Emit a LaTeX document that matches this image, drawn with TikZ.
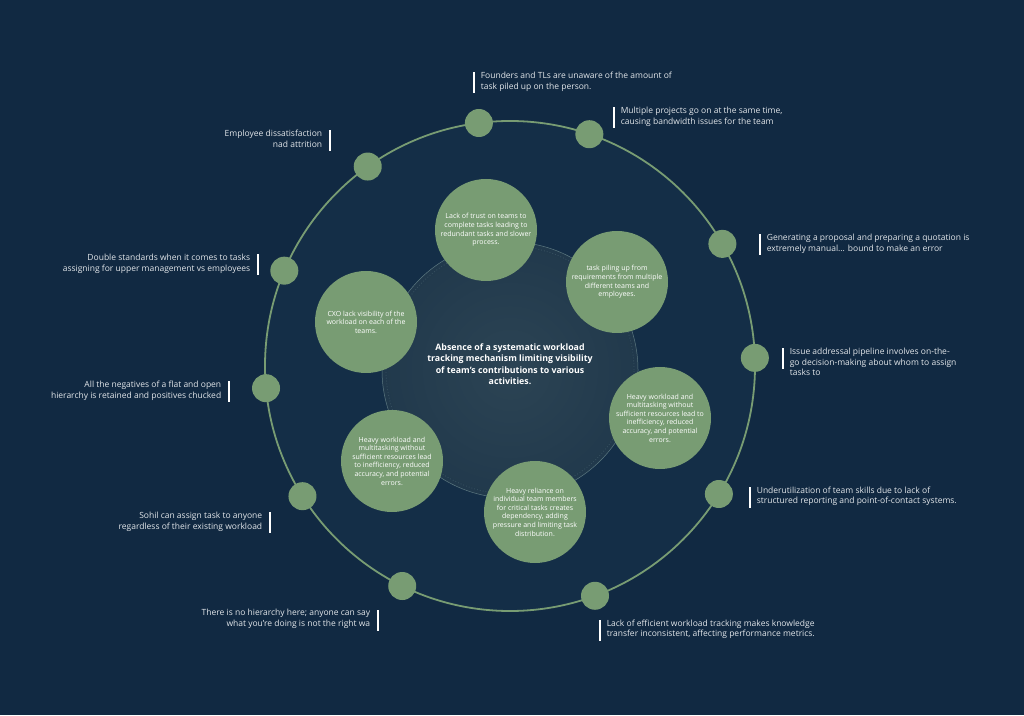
\documentclass[tikz,border=0pt]{standalone}
\usepackage{xcolor}
\usepackage{fontspec}
\setmainfont{Open Sans}
\usepackage{tikz}
\usetikzlibrary{
  positioning,
  calc,
  backgrounds
}
\definecolor{pagebg}{RGB}{17,41,66}
\definecolor{ringbg}{RGB}{20,46,71}
\definecolor{sage}{RGB}{120,156,115}
\definecolor{corebg}{RGB}{44,68,84}
\definecolor{coreedge}{RGB}{33,57,76}
\definecolor{coreline}{RGB}{92,120,128}
\definecolor{labeltext}{RGB}{226,230,234}
\tikzset{
  dotnode/.style={
    circle, fill=sage, minimum size=28pt, inner sep=0pt
  },
  issuenode/.style={
    circle, fill=sage, minimum size=102pt, inner sep=0pt,
    text=white, align=center,
    font=\fontsize{7}{8.6}\selectfont
  },
  barnode/.style={
    fill=white, minimum width=2.8pt, minimum height=21pt, inner sep=0pt
  },
  labelnode/.style={
    text=labeltext, inner sep=0pt,
    font=\fontsize{8.5}{10.6}\selectfont
  },
  corenode/.style={
    text=white, align=center, inner sep=0pt,
    font=\fontsize{8.8}{11.5}\selectfont\bfseries
  }
}

\begin{document}
\begin{tikzpicture}[x=1pt, y=1pt]

    \fill[pagebg] (0,0) rectangle (1024,715);
    \useasboundingbox (0,0) rectangle (1024,715);

    \coordinate (ring) at (510,349);
    \coordinate (core) at (510,345);

    \fill[ringbg] (ring) circle (245);
    \draw[sage, line width=1.8pt] (ring) circle (245);

    \shade[inner color=corebg, outer color=coreedge] (core) circle (128);
    \draw[coreline, line width=0.5pt] (core) circle (128);
    \draw[coreline, line width=0.9pt, dotted, opacity=0.35] (core) circle (124);

    \node[corenode] (absence) at (510,351) {Absence of a systematic workload\\tracking mechanism limiting visibility\\of team's contributions to various\\activities.};

    \node[issuenode] (trust) at (486,485) {Lack of trust on teams to\\complete tasks leading to\\redundant tasks and slower\\process.};
    \node[issuenode] (piling) at (617,433) {task piling up from\\requirements from multiple\\different teams and\\employees.};
    \node[issuenode] (cxo) at (366,393) {CXO lack visibility of the\\workload on each of the\\teams.};
    \node[issuenode] (heavyr) at (660,297) {Heavy workload and\\multitasking without\\sufficient resources lead to\\inefficiency, reduced\\accuracy, and potential\\errors.};
    \node[issuenode] (heavyl) at (392,254) {Heavy workload and\\multitasking without\\sufficient resources lead\\to inefficiency, reduced\\accuracy, and potential\\errors.};
    \node[issuenode] (reliance) at (535,203) {Heavy reliance on\\individual team members\\for critical tasks creates\\dependency, adding\\pressure and limiting task\\distribution.};

    \node[dotnode] (p1) at ($(ring)+(97.3:245)$) {};
    \node[dotnode] (p2) at ($(ring)+(71.1:245)$) {};
    \node[dotnode] (p3) at ($(ring)+(29.9:245)$) {};
    \node[dotnode] (p4) at ($(ring)+(1.9:245)$) {};
    \node[dotnode] (p5) at ($(ring)+(-31.5:245)$) {};
    \node[dotnode] (p6) at ($(ring)+(-69.7:245)$) {};
    \node[dotnode] (p7) at ($(ring)+(-116.1:245)$) {};
    \node[dotnode] (p8) at ($(ring)+(212.1:245)$) {};
    \node[dotnode] (p9) at ($(ring)+(185.2:245)$) {};
    \node[dotnode] (p10) at ($(ring)+(157.1:245)$) {};
    \node[dotnode] (p11) at ($(ring)+(125.5:245)$) {};

    % labels to the right of their bar
    \node[barnode] (b1) at (474,632) {};
    \node[labelnode, align=left, right=5pt of b1.north east, anchor=north west] (l1) {Founders and TLs are unaware of the amount of\\task piled up on the person.};
    \node[barnode] (b2) at (614,597) {};
    \node[labelnode, align=left, right=5pt of b2.north east, anchor=north west] (l2) {Multiple projects go on at the same time,\\causing bandwidth issues for the team};
    \node[barnode] (b3) at (760,470.5) {};
    \node[labelnode, align=left, right=5pt of b3.north east, anchor=north west] (l3) {Generating a proposal and preparing a quotation is\\extremely manual... bound to make an error};
    \node[barnode] (b4) at (783,356.5) {};
    \node[labelnode, align=left, right=5pt of b4.north east, anchor=north west] (l4) {Issue addressal pipeline involves on-the-\\go decision-making about whom to assign\\tasks to};
    \node[barnode] (b5) at (750,218) {};
    \node[labelnode, align=left, right=5pt of b5.north east, anchor=north west] (l5) {Underutilization of team skills due to lack of\\structured reporting and point-of-contact systems.};
    \node[barnode] (b6) at (600,85) {};
    \node[labelnode, align=left, right=5pt of b6.north east, anchor=north west] (l6) {Lack of efficient workload tracking makes knowledge\\transfer inconsistent, affecting performance metrics.};

    % labels to the left of their bar
    \node[barnode] (b7) at (378,95) {};
    \node[labelnode, align=right, left=6pt of b7.north west, anchor=north east] (l7) {There is no hierarchy here; anyone can say\\what you're doing is not the right wa};
    \node[barnode] (b8) at (270,192.5) {};
    \node[labelnode, align=right, left=6pt of b8.north west, anchor=north east] (l8) {Sohil can assign task to anyone\\regardless of their existing workload};
    \node[barnode] (b9) at (229,323.5) {};
    \node[labelnode, align=right, left=6pt of b9.north west, anchor=north east] (l9) {All the negatives of a flat and open\\hierarchy is retained and positives chucked};
    \node[barnode] (b10) at (258,450.5) {};
    \node[labelnode, align=right, left=6pt of b10.north west, anchor=north east] (l10) {Double standards when it comes to tasks\\assigning for upper management vs employees};
    \node[barnode] (b11) at (330,574.5) {};
    \node[labelnode, align=right, left=6pt of b11.north west, anchor=north east] (l11) {Employee dissatisfaction\\nad attrition};

  \end{tikzpicture}
\end{document}
